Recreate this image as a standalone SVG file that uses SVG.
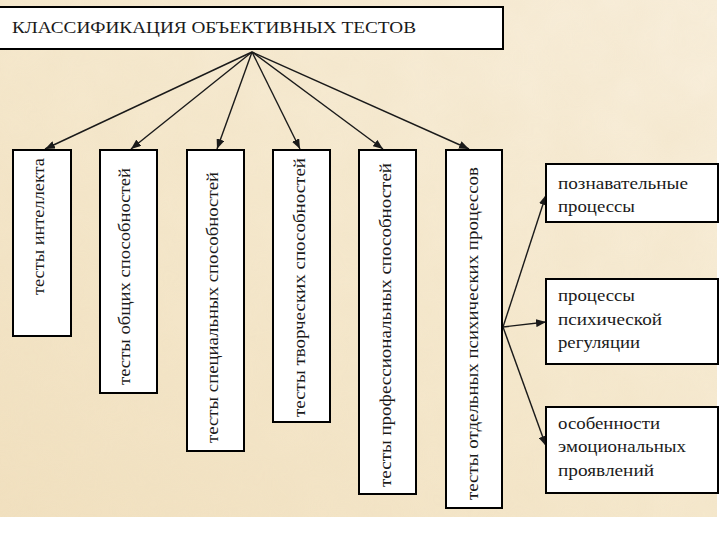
<svg xmlns="http://www.w3.org/2000/svg" width="720" height="540" viewBox="0 0 720 540">
<defs>
<style>
.box{fill:#ffffff;stroke:#000000;stroke-width:2}
.t{font-family:'Liberation Serif','DejaVu Serif',serif;font-size:17px;fill:#1a1a1a}
.c{stroke:#1a1a1a;stroke-width:1.4;fill:none;marker-end:url(#ah)}
</style>
<marker id="ah" markerUnits="userSpaceOnUse" markerWidth="10" markerHeight="8" refX="10" refY="4" orient="auto">
<path d="M0,0 L10,4 L0,8 Z" fill="#1a1a1a"/>
</marker>
<linearGradient id="bg" x1="0" y1="1" x2="1" y2="0">
<stop offset="0" stop-color="#F1E0BF"/>
<stop offset="0.5" stop-color="#F5E8CD"/>
<stop offset="1" stop-color="#F8EEDB"/>
</linearGradient>
<filter id="tex" x="0" y="0" width="100%" height="100%">
<feTurbulence type="fractalNoise" baseFrequency="0.02" numOctaves="3" seed="4"/>
<feColorMatrix type="matrix" values="0 0 0 0 0.86  0 0 0 0 0.74  0 0 0 0 0.52  0 0 0 0.5 -0.1"/>
</filter>
</defs>
<rect x="0" y="0" width="720" height="540" fill="#ffffff"/>
<rect x="0" y="0" width="717" height="517" fill="url(#bg)"/>
<rect x="0" y="0" width="717" height="517" filter="url(#tex)" opacity="0.7"/>

<g id="connectors">
<line class="c" x1="252" y1="52" x2="45" y2="149"/>
<line class="c" x1="252" y1="52" x2="131" y2="149"/>
<line class="c" x1="252" y1="52" x2="217" y2="149"/>
<line class="c" x1="252" y1="52" x2="300" y2="149"/>
<line class="c" x1="252" y1="52" x2="383" y2="149"/>
<line class="c" x1="252" y1="52" x2="469" y2="149"/>
<line class="c" x1="503" y1="327" x2="546" y2="195"/>
<line class="c" x1="503" y1="327" x2="546" y2="322"/>
<line class="c" x1="503" y1="327" x2="546" y2="446"/>
</g>

<g id="title">
<rect class="box" x="-1" y="7" width="504" height="42"/>
<text class="t" font-family="Liberation Serif, DejaVu Serif, serif" x="12" y="33" textLength="404" lengthAdjust="spacingAndGlyphs">КЛАССИФИКАЦИЯ ОБЪЕКТИВНЫХ ТЕСТОВ</text>
</g>

<g id="n1">
<rect class="box" x="13" y="150" width="58" height="186"/>
<text class="t" transform="translate(44,295) rotate(-90)" textLength="137" lengthAdjust="spacingAndGlyphs">тесты интеллекта</text>
</g>
<g id="n2">
<rect class="box" x="100" y="150" width="57" height="243"/>
<text class="t" transform="translate(130,385) rotate(-90)" textLength="217" lengthAdjust="spacingAndGlyphs">тесты общих способностей</text>
</g>
<g id="n3">
<rect class="box" x="187" y="150" width="57" height="301"/>
<text class="t" transform="translate(218,443) rotate(-90)" textLength="271" lengthAdjust="spacingAndGlyphs">тесты специальных способностей</text>
</g>
<g id="n4">
<rect class="box" x="273" y="150" width="57" height="272"/>
<text class="t" transform="translate(305,417) rotate(-90)" textLength="259" lengthAdjust="spacingAndGlyphs">тесты творческих способностей</text>
</g>
<g id="n5">
<rect class="box" x="359" y="150" width="57" height="344"/>
<text class="t" transform="translate(391,487) rotate(-90)" textLength="324" lengthAdjust="spacingAndGlyphs">тесты профессиональных способностей</text>
</g>
<g id="n6">
<rect class="box" x="446" y="150" width="56" height="358"/>
<text class="t" transform="translate(478,500) rotate(-90)" textLength="333" lengthAdjust="spacingAndGlyphs">тесты отдельных психических процессов</text>
</g>

<g id="r1">
<rect class="box" x="546" y="164" width="172" height="58"/>
<text class="t" x="558" y="189" textLength="130" lengthAdjust="spacingAndGlyphs">познавательные</text>
<text class="t" x="558" y="212" textLength="77" lengthAdjust="spacingAndGlyphs">процессы</text>
</g>
<g id="r2">
<rect class="box" x="546" y="279" width="172" height="85"/>
<text class="t" x="558" y="301" textLength="77" lengthAdjust="spacingAndGlyphs">процессы</text>
<text class="t" x="558" y="325" textLength="104" lengthAdjust="spacingAndGlyphs">психической</text>
<text class="t" x="558" y="348" textLength="82" lengthAdjust="spacingAndGlyphs">регуляции</text>
</g>
<g id="r3">
<rect class="box" x="546" y="407" width="172" height="86"/>
<text class="t" x="558" y="429" textLength="102" lengthAdjust="spacingAndGlyphs">особенности</text>
<text class="t" x="558" y="452" textLength="128" lengthAdjust="spacingAndGlyphs">эмоциональных</text>
<text class="t" x="558" y="476" textLength="96" lengthAdjust="spacingAndGlyphs">проявлений</text>
</g>
</svg>
